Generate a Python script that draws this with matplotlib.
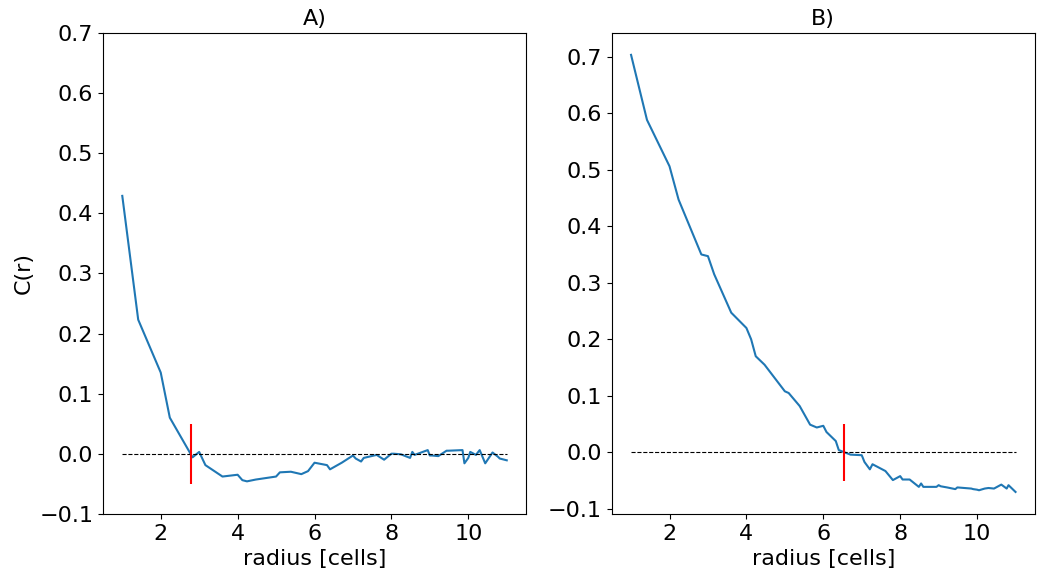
import matplotlib
matplotlib.use("Agg")
import matplotlib.pyplot as plt

# distances on the grid (cells)
radius = [1.000, 1.414, 2.000, 2.236, 2.828, 3.000, 3.162, 3.606, 4.000, 4.123,
          4.243, 4.472, 5.000, 5.099, 5.385, 5.657, 5.831, 6.000, 6.083, 6.325,
          6.403, 6.708, 7.000, 7.071, 7.211, 7.280, 7.616, 7.810, 8.000, 8.062,
          8.246, 8.485, 8.544, 8.602, 8.944, 9.000, 9.055, 9.220, 9.434, 9.487,
          9.849, 9.899, 10.000, 10.050, 10.198, 10.296, 10.440, 10.630, 10.770,
          10.817, 11.000]

corr_a = [0.429, 0.223, 0.135, 0.060, -0.006, 0.003, -0.019, -0.038, -0.035, -0.044,
          -0.046, -0.043, -0.038, -0.031, -0.030, -0.034, -0.029, -0.015, -0.016, -0.019,
          -0.026, -0.015, -0.003, -0.008, -0.013, -0.007, -0.002, -0.010, 0.000, 0.000,
          -0.001, -0.007, 0.003, -0.002, 0.006, -0.003, -0.003, -0.004, 0.005, 0.005,
          0.006, -0.016, -0.007, 0.003, -0.002, 0.006, -0.016, 0.002, -0.005,
          -0.008, -0.011]

corr_b = [0.703, 0.588, 0.506, 0.447, 0.350, 0.347, 0.315, 0.247, 0.220, 0.200,
          0.170, 0.155, 0.108, 0.105, 0.082, 0.049, 0.044, 0.047, 0.036, 0.020,
          0.004, -0.004, -0.005, -0.017, -0.030, -0.021, -0.033, -0.049, -0.042, -0.048,
          -0.048, -0.061, -0.055, -0.061, -0.061, -0.058, -0.060, -0.062, -0.065, -0.062,
          -0.064, -0.065, -0.066, -0.067, -0.064, -0.063, -0.064, -0.057, -0.064,
          -0.058, -0.070]

# correlation length markers
cut_a = 2.78
cut_b = 6.54

plt.rcParams['font.size'] = 16

fig, axes = plt.subplots(1, 2, figsize=(10.41, 5.69), dpi=100)
fig.subplots_adjust(left=0.099, right=0.994, bottom=0.097, top=0.942, wspace=0.203)

panels = [("A)", corr_a, cut_a), ("B)", corr_b, cut_b)]
for ax, (title, corr, cut) in zip(axes, panels):
    ax.plot(radius, corr, color="#1f77b4", lw=1.5)
    ax.hlines(0, radius[0], radius[-1], colors="black", linestyles="--", lw=0.8)
    ax.vlines(cut, -0.05, 0.05, colors="red", lw=1.5)
    ax.set_title(title, fontsize=16)
    ax.set_xlabel("radius [cells]")
    ax.set_xticks([2, 4, 6, 8, 10])

axes[0].set_ylim(-0.1, 0.7)
axes[0].set_ylabel("C(r)")

fig.savefig("out.png", dpi=100)
